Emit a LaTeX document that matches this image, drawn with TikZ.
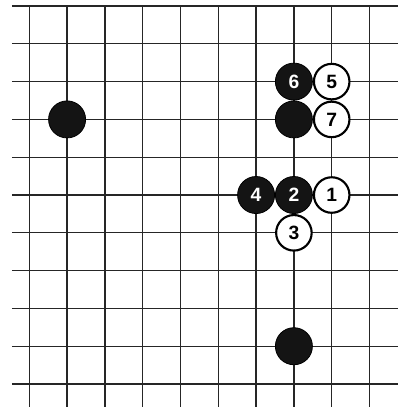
\documentclass[tikz,border=0pt]{standalone}
\usepackage{fontspec}
\setsansfont{Liberation Sans}
\begin{document}
\begin{tikzpicture}[
    blackstone/.style={circle, fill=black!92, draw=black, line width=0.6pt,
                       minimum size=0.98cm, inner sep=0pt, text=white,
                       font=\sffamily\bfseries\fontsize{14.5}{15}\selectfont},
    whitestone/.style={circle, fill=white, draw=black, line width=1.6pt,
                       minimum size=0.94cm, inner sep=0pt, text=black,
                       font=\sffamily\bfseries\fontsize{14.5}{15}\selectfont},
    gridline/.style={line width=1pt, black!85},
    edgeline/.style={line width=2pt, black!85}
]
\useasboundingbox (-0.775,-10.608) rectangle (9.754,0.159);
% board lines
\foreach \j in {1,...,10}
    \draw[gridline] (-0.458,-\j) -- (9.754,-\j);
\foreach \i in {0,...,9}
    \draw[gridline] (\i,0) -- (\i,-10.608);
\draw[edgeline] (-0.458,0) -- (9.754,0);
% stones
\node[blackstone] (b1) at (1,-3) {};
\node[blackstone] (b2) at (7,-3) {};
\node[blackstone] (b3) at (7,-9) {};
\node[whitestone] (m1) at (8,-5) {1};
\node[blackstone] (m2) at (7,-5) {2};
\node[whitestone] (m3) at (7,-6) {3};
\node[blackstone] (m4) at (6,-5) {4};
\node[whitestone] (m5) at (8,-2) {5};
\node[blackstone] (m6) at (7,-2) {6};
\node[whitestone] (m7) at (8,-3) {7};
\end{tikzpicture}
\end{document}
